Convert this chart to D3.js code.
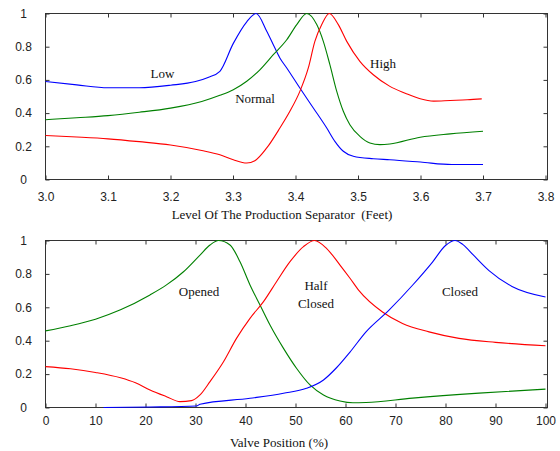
<!DOCTYPE html>
<html>
<head>
<meta charset="utf-8">
<script src="https://cdn.jsdelivr.net/npm/d3@7"></script>
<style>
  html, body { margin: 0; padding: 0; background: #fff; }
  svg { display: block; }
  .tick text { font-family: "Liberation Sans", Arial, sans-serif; font-size: 12px; fill: #222; }
  .lbl { font-family: "Liberation Serif", "Times New Roman", serif; font-size: 13px; fill: #111; }
</style>
</head>
<body>
<svg id="chart" width="560" height="451"></svg>
<script>
// ---------- Data: top chart (Level of the production separator) ----------
const levelTicks = [3.0, 3.1, 3.2, 3.3, 3.4, 3.5, 3.6, 3.7, 3.8];
const yTicks = [0, 0.2, 0.4, 0.6, 0.8, 1];
const yTickLabels = ["0", "0.2", "0.4", "0.6", "0.8", "1"];

const lowX = [3.00, 3.05, 3.10, 3.15, 3.20, 3.24, 3.26, 3.279, 3.3005, 3.322, 3.337, 3.354, 3.3645, 3.375, 3.386, 3.407, 3.4285, 3.45, 3.463, 3.4765, 3.4925, 3.5245, 3.551, 3.60, 3.65, 3.70];
const lowY = [0.59, 0.57, 0.553, 0.553, 0.568, 0.59, 0.615, 0.652, 0.82, 0.95, 1.0, 0.893, 0.812, 0.732, 0.672, 0.551, 0.431, 0.31, 0.23, 0.17, 0.14, 0.125, 0.119, 0.105, 0.09, 0.09];

const normalX = [3.00, 3.05, 3.10, 3.15, 3.20, 3.25, 3.279, 3.3005, 3.322, 3.343, 3.3645, 3.386, 3.402, 3.418, 3.434, 3.4445, 3.455, 3.466, 3.4765, 3.487, 3.503, 3.519, 3.535, 3.551, 3.5995, 3.6475, 3.70];
const normalY = [0.36, 0.372, 0.385, 0.405, 0.43, 0.47, 0.507, 0.541, 0.592, 0.661, 0.752, 0.842, 0.933, 1.0, 0.933, 0.832, 0.692, 0.531, 0.411, 0.33, 0.26, 0.22, 0.21, 0.214, 0.255, 0.275, 0.291];

const highX = [3.00, 3.05, 3.10, 3.15, 3.20, 3.25, 3.279, 3.3005, 3.322, 3.335, 3.354, 3.375, 3.391, 3.407, 3.4205, 3.431, 3.442, 3.454, 3.4685, 3.482, 3.503, 3.5245, 3.551, 3.5755, 3.5995, 3.621, 3.6475, 3.675, 3.698];
const highY = [0.265, 0.256, 0.245, 0.228, 0.208, 0.175, 0.149, 0.119, 0.099, 0.113, 0.19, 0.31, 0.411, 0.531, 0.672, 0.832, 0.933, 1.0, 0.933, 0.832, 0.712, 0.631, 0.561, 0.52, 0.486, 0.472, 0.476, 0.48, 0.486];

// ---------- Data: bottom chart (Valve position) ----------
const valveTicks = [0, 10, 20, 30, 40, 50, 60, 70, 80, 90, 100];

const openedX = [0, 5, 10, 15, 20.9, 24.2, 27.6, 30.9, 32.9, 34.6, 36.9, 38.9, 40.9, 42.9, 44.9, 47.6, 50.2, 52.9, 55.6, 58.9, 61.5, 64.1, 73.4, 86.7, 100];
const openedY = [0.459, 0.49, 0.529, 0.585, 0.674, 0.734, 0.813, 0.913, 0.973, 1.0, 0.973, 0.873, 0.734, 0.614, 0.494, 0.354, 0.235, 0.135, 0.075, 0.039, 0.028, 0.03, 0.056, 0.086, 0.11];

const halfX = [0, 5, 10, 15, 18, 20.9, 24.2, 26.9, 29.2, 30.9, 32.9, 35.6, 38.2, 40.9, 43.6, 46.2, 48.9, 51.6, 53.8, 56.2, 58.9, 60.9, 62.7, 67.4, 71.4, 76.7, 82.7, 90, 100];
const halfY = [0.245, 0.232, 0.21, 0.178, 0.148, 0.105, 0.065, 0.035, 0.041, 0.075, 0.155, 0.274, 0.414, 0.534, 0.634, 0.753, 0.873, 0.963, 1.0, 0.953, 0.853, 0.774, 0.70, 0.572, 0.503, 0.453, 0.414, 0.39, 0.37];

const closedX = [11.6, 20.9, 30.2, 30.9, 40.9, 47.6, 52.2, 55.6, 58.2, 60.9, 64.1, 68.7, 73.4, 77.4, 80, 81.9, 83.5, 85.5, 88.7, 93.3, 100];
const closedY = [0, 0.003, 0.009, 0.019, 0.055, 0.085, 0.115, 0.165, 0.238, 0.332, 0.453, 0.583, 0.732, 0.871, 0.97, 1.0, 0.975, 0.915, 0.82, 0.725, 0.662];

const zip = (xs, ys) => xs.map((x, i) => [x, ys[i]]);

const svg = d3.select("#chart");

function panel(cfg) {
  const x = d3.scaleLinear().domain(cfg.xDomain).range([45.5, 545.5]);
  const y = d3.scaleLinear().domain([0, 1]).range([cfg.bottom, cfg.top]);
  const g = svg.append("g");

  g.append("rect")
    .attr("x", 45.5).attr("y", cfg.top)
    .attr("width", 547.5 - 45.5).attr("height", cfg.bottom - cfg.top)
    .attr("fill", "none").attr("stroke", "#333").attr("stroke-width", 1);

  const xb = g.append("g").attr("transform", `translate(0,${cfg.bottom})`)
    .call(d3.axisBottom(x).tickValues(cfg.xTicks).tickFormat(cfg.xFmt)
      .tickSizeInner(-4).tickSizeOuter(0).tickPadding(cfg.xPad));
  xb.select(".domain").remove();
  xb.selectAll(".tick line").attr("stroke", "#333");

  const xt = g.append("g").attr("transform", `translate(0,${cfg.top})`)
    .call(d3.axisTop(x).tickValues(cfg.xTicks).tickFormat("").tickSizeInner(-4).tickSizeOuter(0));
  xt.select(".domain").remove();
  xt.selectAll(".tick line").attr("stroke", "#333");

  const yl = g.append("g").attr("transform", "translate(45.5,0)")
    .call(d3.axisLeft(y).tickValues(yTicks).tickFormat((d, i) => yTickLabels[i])
      .tickSizeInner(-4).tickSizeOuter(0));
  yl.select(".domain").remove();
  yl.selectAll(".tick line").attr("stroke", "#333");
  yl.selectAll(".tick text").attr("x", -22).attr("text-anchor", "middle");

  const yr = g.append("g").attr("transform", "translate(547.5,0)")
    .call(d3.axisRight(y).tickValues(yTicks).tickFormat("").tickSizeInner(-4).tickSizeOuter(0));
  yr.select(".domain").remove();
  yr.selectAll(".tick line").attr("stroke", "#333");

  const line = d3.line().x(d => x(d[0])).y(d => y(d[1])).curve(d3.curveMonotoneX);
  cfg.series.forEach(s => {
    g.append("path").datum(s.data)
      .attr("fill", "none").attr("stroke", s.color).attr("stroke-width", 1.1)
      .attr("d", line);
  });

  cfg.labels.forEach(l => {
    g.append("text").attr("class", "lbl")
      .attr("x", l.x).attr("y", l.y).attr("text-anchor", "middle").text(l.t);
  });

  g.append("text").attr("class", "lbl")
    .attr("x", cfg.title.x).attr("y", cfg.title.y)
    .attr("text-anchor", "middle").style("white-space", "pre")
    .text(cfg.title.t);
}

panel({
  xDomain: [3.0, 3.8], top: 13.5, bottom: 179.5,
  xTicks: levelTicks, xFmt: d3.format(".1f"), xPad: 13,
  series: [
    { data: zip(lowX, lowY), color: "#0000ff" },
    { data: zip(normalX, normalY), color: "#008000" },
    { data: zip(highX, highY), color: "#ff0000" }
  ],
  labels: [
    { t: "Low", x: 162.5, y: 78 },
    { t: "Normal", x: 255, y: 103 },
    { t: "High", x: 383, y: 68 }
  ],
  title: { t: "Level Of The Production Separator  (Feet)", x: 282, y: 219 }
});

panel({
  xDomain: [0, 100], top: 240.5, bottom: 407.5,
  xTicks: valveTicks, xFmt: d3.format("d"), xPad: 9,
  series: [
    { data: zip(openedX, openedY), color: "#008000" },
    { data: zip(halfX, halfY), color: "#ff0000" },
    { data: zip(closedX, closedY), color: "#0000ff" }
  ],
  labels: [
    { t: "Opened", x: 199, y: 296 },
    { t: "Half", x: 316, y: 290 },
    { t: "Closed", x: 316, y: 308 },
    { t: "Closed", x: 460, y: 296 }
  ],
  title: { t: "Valve Position (%)", x: 279, y: 447 }
});
</script>
</body>
</html>
